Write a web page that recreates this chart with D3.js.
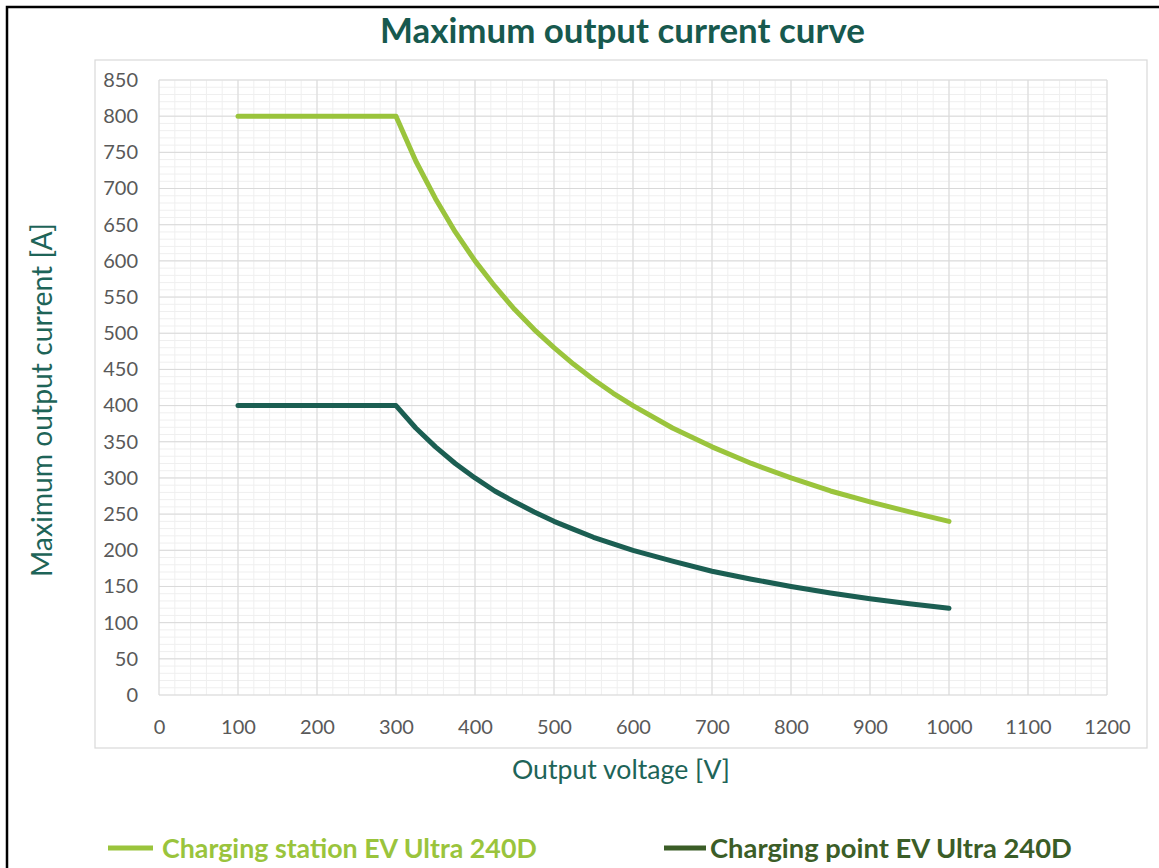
<!DOCTYPE html>
<html>
<head>
<meta charset="utf-8">
<script src="https://cdn.jsdelivr.net/npm/d3@7"></script>
<style>
  body { margin: 0; background: #fff; }
  svg { display: block; font-family: Lato, "Open Sans", sans-serif; }
</style>
</head>
<body>
<div id="chart"></div>
<script>
// values
var voltage = [100, 150, 200, 250, 300, 325, 350, 375, 400, 425, 450, 475, 500, 525, 550, 575, 600, 650, 700, 750, 800, 850, 900, 950, 1000]
var stationCurrent = [800, 800, 800, 800, 800, 738, 686, 640, 600, 565, 533, 505, 480, 457, 436, 417, 400, 369, 343, 320, 300, 282, 267, 253, 240]
var pointCurrent = [400, 400, 400, 400, 400, 369, 343, 320, 300, 282, 267, 253, 240, 229, 218, 209, 200, 185, 171, 160, 150, 141, 133, 126, 120]
var xTicks = [0, 100, 200, 300, 400, 500, 600, 700, 800, 900, 1000, 1100, 1200]
var yTicks = [0, 50, 100, 150, 200, 250, 300, 350, 400, 450, 500, 550, 600, 650, 700, 750, 800, 850]
var seriesNames = ["Charging station EV Ultra 240D", "Charging point EV Ultra 240D"]

var width = 1159
var height = 868
var svg = d3.select("#chart").append("svg")
  .attr("width", width)
  .attr("height", height)

// outer frame
svg.append("rect")
  .attr("x", 7).attr("y", 7)
  .attr("width", width + 20).attr("height", height + 20)
  .attr("fill", "none").attr("stroke", "#000").attr("stroke-width", 2.5)

// chart area frame
svg.append("rect")
  .attr("x", 95).attr("y", 60)
  .attr("width", 1052).attr("height", 688)
  .attr("fill", "none").attr("stroke", "#d9d9d9").attr("stroke-width", 1.2)

var x = d3.scaleLinear().domain([0, 1200]).range([159, 1107])
var y = d3.scaleLinear().domain([0, 850]).range([695, 80])

// fit text into a measured width
function fitText(sel, w) {
  var len = sel.node().getComputedTextLength()
  var fs = parseFloat(sel.attr("font-size"))
  sel.attr("font-size", fs * w / len)
}

// minor grid
var grid = svg.append("g")
grid.selectAll(".minx")
  .data(d3.range(0, 1201, 20))
  .join("line")
  .attr("x1", d => x(d)).attr("x2", d => x(d))
  .attr("y1", y(0)).attr("y2", y(850))
  .attr("stroke", "#efefef").attr("stroke-width", 1)
grid.selectAll(".miny")
  .data(d3.range(0, 851, 10))
  .join("line")
  .attr("y1", d => y(d)).attr("y2", d => y(d))
  .attr("x1", x(0)).attr("x2", x(1200))
  .attr("stroke", "#efefef").attr("stroke-width", 1)

// major grid
grid.selectAll(".majx")
  .data(xTicks)
  .join("line")
  .attr("x1", d => x(d)).attr("x2", d => x(d))
  .attr("y1", y(0)).attr("y2", y(850))
  .attr("stroke", "#d9d9d9").attr("stroke-width", 1)
grid.selectAll(".majy")
  .data(yTicks)
  .join("line")
  .attr("y1", d => y(d)).attr("y2", d => y(d))
  .attr("x1", x(0)).attr("x2", x(1200))
  .attr("stroke", "#d9d9d9").attr("stroke-width", 1)

// axes (labels only, like Excel)
function xAxis(g) {
  g.attr("transform", `translate(0, ${y(0)})`)
    .call(d3.axisBottom(x).tickValues(xTicks).tickFormat(d3.format("d")).tickSize(0).tickPadding(25))
    .attr("font-size", "20px")
    .attr("font-family", "Lato, sans-serif")
  g.select(".domain").remove()
  g.selectAll("text").attr("fill", "#595959")
}
function yAxis(g) {
  g.attr("transform", `translate(${x(0)}, 0)`)
    .call(d3.axisLeft(y).tickValues(yTicks).tickFormat(d3.format("d")).tickSize(0).tickPadding(21))
    .attr("font-size", "20px")
    .attr("font-family", "Lato, sans-serif")
  g.select(".domain").remove()
  g.selectAll("text").attr("fill", "#595959")
}
svg.append("g").call(xAxis)
svg.append("g").call(yAxis)

// lines
var line = d3.line()
  .x((d, i) => x(voltage[i]))
  .y(d => y(d))

svg.append("path")
  .datum(stationCurrent)
  .attr("d", line)
  .attr("fill", "none")
  .attr("stroke", "#9ac43c")
  .attr("stroke-width", 5)
  .attr("stroke-linecap", "round")
  .attr("stroke-linejoin", "round")

svg.append("path")
  .datum(pointCurrent)
  .attr("d", line)
  .attr("fill", "none")
  .attr("stroke", "#1b5e52")
  .attr("stroke-width", 5)
  .attr("stroke-linecap", "round")
  .attr("stroke-linejoin", "round")

// titles
var title = svg.append("text")
  .attr("x", 380).attr("y", 43)
  .attr("font-size", 30).attr("font-weight", "bold")
  .attr("fill", "#17594e")
  .text("Maximum output current curve")
fitText(title, 485)

var xTitle = svg.append("text")
  .attr("x", 512).attr("y", 779)
  .attr("font-size", 24)
  .attr("fill", "#1e6458")
  .text("Output voltage [V]")
fitText(xTitle, 218)

var yTitle = svg.append("text")
  .attr("transform", "translate(52, 577) rotate(-90)")
  .attr("font-size", 24)
  .attr("fill", "#1e6458")
  .text("Maximum output current [A]")
fitText(yTitle, 354)

// legend
var legendColors = ["#9ac43c", "#3b5d27"]
var legendLine = [[108, 153], [664, 706]]
var legendText = [[162, 375], [710, 362]]
seriesNames.forEach(function(name, i) {
  svg.append("line")
    .attr("x1", legendLine[i][0]).attr("x2", legendLine[i][1])
    .attr("y1", 848).attr("y2", 848)
    .attr("stroke", legendColors[i]).attr("stroke-width", 5)
  var t = svg.append("text")
    .attr("x", legendText[i][0]).attr("y", 858)
    .attr("font-size", 26).attr("font-weight", "bold")
    .attr("fill", legendColors[i])
    .text(name)
  fitText(t, legendText[i][1])
})
</script>
</body>
</html>
